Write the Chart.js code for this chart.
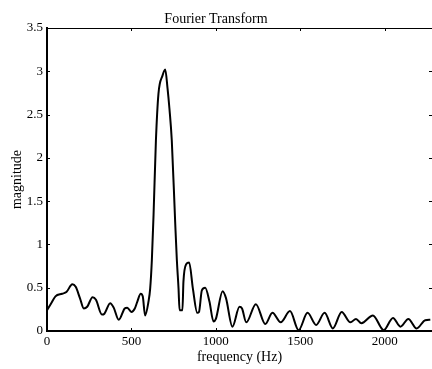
<!DOCTYPE html>
<html>
<head>
<meta charset="utf-8">
<script src="https://cdn.jsdelivr.net/npm/chart.js@4/dist/chart.umd.min.js"></script>
<style>
  html, body { margin: 0; padding: 0; background: #fff; }
  #wrap { width: 432px; height: 369px; }
</style>
</head>
<body>
<div id="wrap"><canvas id="c" width="432" height="369"></canvas></div>
<script>
const frequency = [0, 25, 50, 90, 115, 150, 170, 195, 218, 238, 270, 290, 325, 340, 374, 395, 425, 460, 475, 500, 520, 535, 555, 567, 581, 601, 611, 621, 631, 645, 660, 684, 700, 714, 725, 739, 759, 769, 779, 785, 802, 808, 824, 842, 864, 890, 900, 917, 937, 962, 986, 1000, 1040, 1060, 1098, 1140, 1155, 1180, 1237, 1293, 1335, 1384, 1439, 1490, 1543, 1594, 1644, 1693, 1745, 1797, 1830, 1862, 1930, 1994, 2049, 2093, 2140, 2189, 2240, 2270];
const magnitude = [0.24, 0.32, 0.40, 0.43, 0.45, 0.54, 0.51, 0.38, 0.26, 0.28, 0.39, 0.36, 0.19, 0.20, 0.32, 0.27, 0.13, 0.26, 0.27, 0.22, 0.26, 0.34, 0.43, 0.40, 0.18, 0.34, 0.49, 0.82, 1.34, 2.20, 2.74, 2.95, 3.02, 2.80, 2.57, 2.20, 1.26, 0.82, 0.49, 0.24, 0.24, 0.57, 0.77, 0.79, 0.49, 0.21, 0.22, 0.47, 0.50, 0.34, 0.11, 0.14, 0.46, 0.38, 0.05, 0.28, 0.26, 0.10, 0.31, 0.08, 0.21, 0.10, 0.23, 0.01, 0.21, 0.07, 0.21, 0.03, 0.22, 0.10, 0.14, 0.09, 0.18, 0.01, 0.15, 0.05, 0.14, 0.03, 0.125, 0.13];
const xTicks = [0, 500, 1000, 1500, 2000];
const yTicks = [0, 0.5, 1, 1.5, 2, 2.5, 3, 3.5];
const titleText = 'Fourier Transform';
const xLabel = 'frequency (Hz)';
const yLabel = 'magnitude';

const serif = "'Liberation Serif', 'DejaVu Serif', serif";

const frameTicks = {
  id: 'frameTicks',
  afterDatasetsDraw(chart) {
    const {ctx, chartArea: a, scales: {x, y}} = chart;
    const len = 3;
    ctx.save();
    ctx.strokeStyle = '#000';
    ctx.lineWidth = 1;
    ctx.beginPath();
    ctx.moveTo(a.left, a.top + 0.5);
    ctx.lineTo(a.right, a.top + 0.5);
    x.ticks.forEach(t => {
      const px = Math.round(x.getPixelForValue(t.value)) + 0.5;
      ctx.moveTo(px, a.bottom);
      ctx.lineTo(px, a.bottom - len);
      ctx.moveTo(px, a.top);
      ctx.lineTo(px, a.top + len);
    });
    y.ticks.forEach(t => {
      const py = Math.round(y.getPixelForValue(t.value)) + 0.5;
      ctx.moveTo(a.left, py);
      ctx.lineTo(a.left + len, py);
      ctx.moveTo(a.right, py);
      ctx.lineTo(a.right - len, py);
    });
    ctx.stroke();
    ctx.restore();
  }
};

new Chart(document.getElementById('c'), {
  type: 'line',
  data: {
    datasets: [{
      data: frequency.map((f, i) => ({x: f, y: magnitude[i]})),
      borderColor: '#000',
      borderWidth: 2,
      pointRadius: 0,
      fill: false,
      cubicInterpolationMode: 'monotone'
    }]
  },
  options: {
    responsive: false,
    animation: false,
    layout: { padding: { left: 0, right: 0, top: 0, bottom: 0 } },
    plugins: {
      legend: { display: false },
      tooltip: { enabled: false },
      title: {
        display: true,
        text: titleText,
        color: '#000',
        font: { family: serif, size: 14, weight: 'normal', lineHeight: 1 },
        padding: { top: 12, bottom: 2 }
      }
    },
    scales: {
      x: {
        type: 'linear',
        min: 0,
        max: 2280,
        afterBuildTicks(s) { s.ticks = xTicks.map(v => ({value: v})); },
        afterFit(s) { s.height = 38; },
        ticks: {
          color: '#000',
          padding: 3,
          maxRotation: 0,
          font: { family: serif, size: 13 },
          callback: v => String(v)
        },
        grid: { display: true, drawOnChartArea: false, drawTicks: false },
        border: { display: true, color: '#000', width: 2 },
        title: {
          display: true,
          text: xLabel,
          color: '#000',
          font: { family: serif, size: 14 },
          padding: { top: 0, bottom: 3 }
        }
      },
      y: {
        type: 'linear',
        min: 0,
        max: 3.5,
        afterBuildTicks(s) { s.ticks = yTicks.map(v => ({value: v})); },
        afterFit(s) { s.width = 47; },
        ticks: {
          color: '#000',
          padding: 4,
          font: { family: serif, size: 13 },
          callback: v => String(v)
        },
        grid: { display: true, drawOnChartArea: false, drawTicks: false },
        border: { display: true, color: '#000', width: 2 },
        title: {
          display: true,
          text: yLabel,
          color: '#000',
          font: { family: serif, size: 14 },
          padding: { top: 9, bottom: 0 }
        }
      }
    }
  },
  plugins: [frameTicks]
});
</script>
</body>
</html>
